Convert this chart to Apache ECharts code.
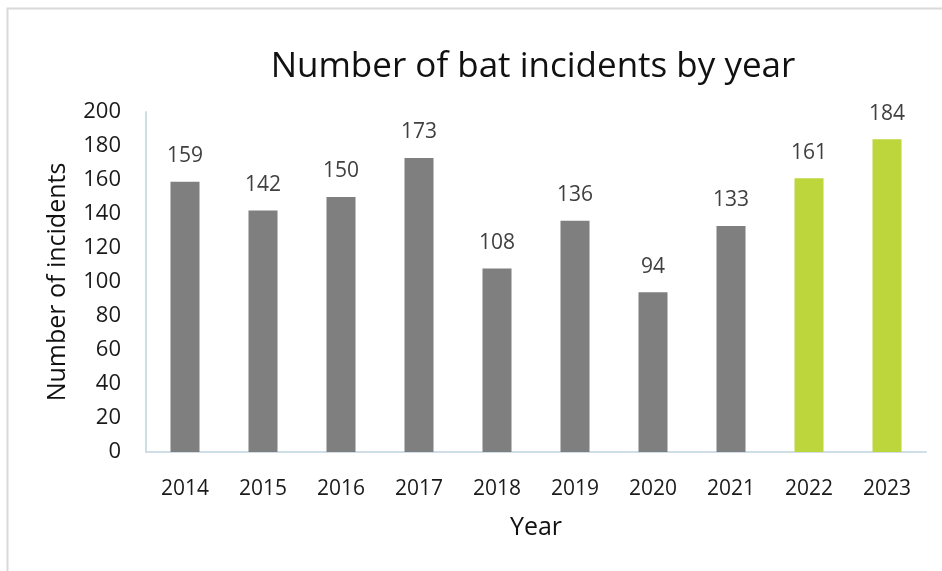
<!DOCTYPE html>
<html>
<head>
<meta charset="utf-8">
<script src="https://cdn.jsdelivr.net/npm/echarts@6/dist/echarts.min.js"></script>
<style>html,body{margin:0;padding:0;background:#fff}#c{width:942px;height:571px}</style>
</head>
<body>
<div id="c"></div>
<script>
const years = ['2014','2015','2016','2017','2018','2019','2020','2021','2022','2023'];
const incidents = [159,142,150,173,108,136,94,133,161,184];
const highlightYears = ['2022','2023'];
const titleText = 'Number of bat incidents by year';
const xName = 'Year';
const yName = 'Number of incidents';

const GRAY = '#7f7f7f', GREEN = '#bcd63c';
const FONT = 'Open Sans';
const chart = echarts.init(document.getElementById('c'), null, {renderer:'canvas'});
chart.setOption({
  animation:false,
  backgroundColor:'#fff',
  graphic:[{type:'rect', shape:{x:7.5,y:8.5,width:960,height:600}, style:{fill:'none', stroke:'#d9d9d9', lineWidth:2}, silent:true}],
  title:{text:titleText, left:528, top:45, textAlign:'center',
    textStyle:{fontFamily:FONT, fontSize:35, fontWeight:'normal', color:'#111'}},
  grid:{left:146, right:16, top:112, bottom:119},
  xAxis:{type:'category', data:years, name:xName, nameLocation:'middle', nameGap:63,
    nameTextStyle:{fontFamily:FONT, fontSize:25, color:'#111'},
    axisLine:{lineStyle:{color:'#cfdde6', width:2}}, axisTick:{show:false},
    axisLabel:{fontFamily:FONT, fontSize:21, color:'#1a1a1a', margin:27}},
  yAxis:{type:'value', min:0, max:200, interval:20, name:yName, nameLocation:'middle', nameGap:76,
    nameTextStyle:{fontFamily:FONT, fontSize:25, color:'#111'},
    axisLine:{show:true, lineStyle:{color:'#cfdde6', width:2}}, axisTick:{show:false},
    splitLine:{show:false},
    axisLabel:{fontFamily:FONT, fontSize:22, color:'#1a1a1a', margin:25}},
  series:[{type:'bar', barWidth:29,
    data:incidents.map((v,i)=>({value:v, itemStyle:{color: highlightYears.includes(years[i]) ? GREEN : GRAY}})),
    label:{show:true, position:'top', distance:15, fontFamily:FONT, fontSize:21, color:'#404040'}}]
});
</script>
</body>
</html>
